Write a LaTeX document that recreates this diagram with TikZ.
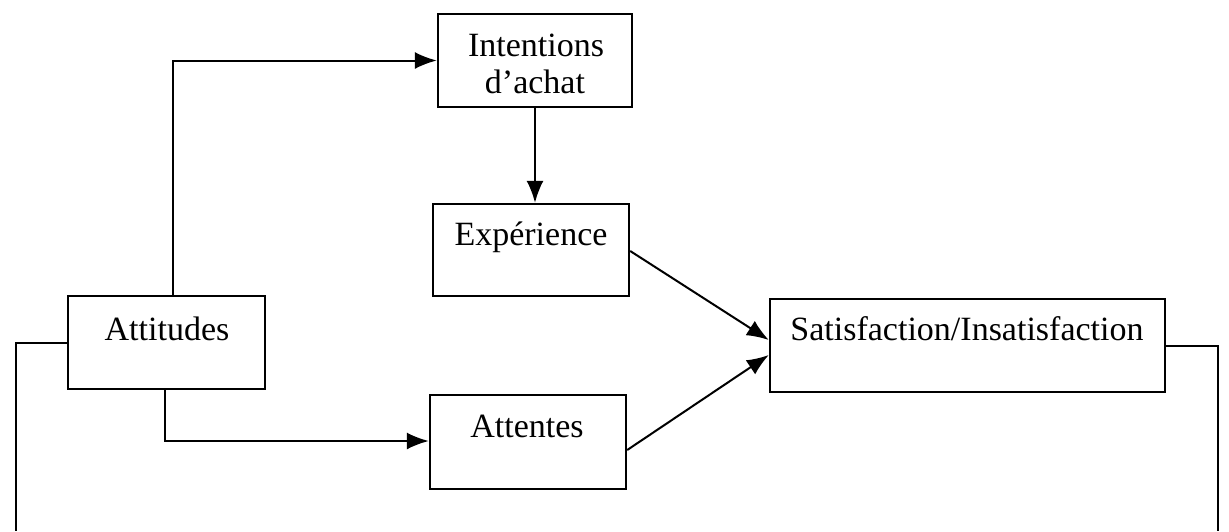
\documentclass[tikz,border=0pt]{standalone}
\usepackage{fontspec}
\setmainfont{Liberation Serif}
\usetikzlibrary{arrows.meta,calc}
\begin{document}
\begin{tikzpicture}[x=1pt,y=-1pt,
  box/.style={draw,line width=2.4pt,rectangle,inner sep=0pt},
  lbl/.style={anchor=base,inner sep=0pt,font=\fontsize{34}{40}\selectfont},
  link/.style={line width=2pt},
  arr/.style={link,-{Latex[length=22pt,width=17pt]}}]
\useasboundingbox (0,0) rectangle (1229,531);
% boxes
\node[box,minimum width=197pt,minimum height=93pt] (att) at (166.5,342.5) {};
\node[box,minimum width=194pt,minimum height=93pt] (int) at (535,60.5) {};
\node[box,minimum width=196pt,minimum height=92pt] (exp) at (531,250) {};
\node[box,minimum width=395pt,minimum height=93pt] (sat) at (967.5,345.5) {};
\node[box,minimum width=196pt,minimum height=94pt] (atn) at (528,442) {};
% labels
\node[lbl] (tatt) at (167,340) {Attitudes};
\node[lbl] (tint1) at (536,56) {Intentions};
\node[lbl] (tint2) at (535,93) {d'achat};
\node[lbl] (texp) at (531,245) {Expérience};
\node[lbl] (tsat) at (967,340) {Satisfaction/Insatisfaction};
\node[lbl] (tatn) at (527,437) {Attentes};
% free ends of the feedback lines
\coordinate (bl) at (16,531);
\coordinate (br) at (1218,531);
% connectors
\draw[arr] ([xshift=6.5pt]att.north) |- (int.west);
\draw[arr] ([xshift=-1.5pt]att.south) |- ([yshift=1pt]atn.west);
\draw[arr] (int.south) -- (int.south |- exp.north);
\draw[arr] ([yshift=-1pt]exp.east) -- ([yshift=5.5pt]sat.west);
\draw[arr] ([yshift=-8pt]atn.east) -- ([yshift=-9.5pt]sat.west);
\draw[link] (sat.east) -| (br);
\draw[link] (att.west) -| (bl);
\end{tikzpicture}
\end{document}
